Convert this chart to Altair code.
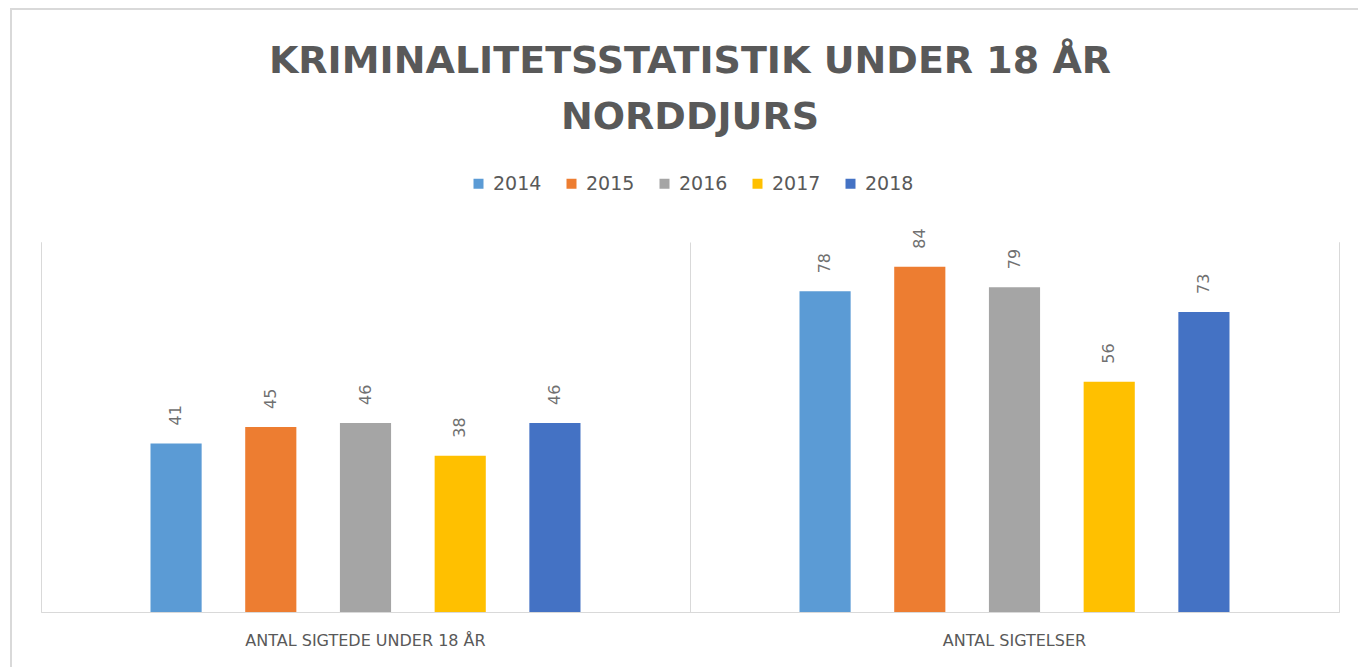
import altair as alt
import pandas as pd

categories = ["ANTAL SIGTEDE UNDER 18 ÅR", "ANTAL SIGTELSER"]
years = ["2014", "2015", "2016", "2017", "2018"]
sigtede = [41, 45, 46, 38, 46]
sigtelser = [78, 84, 79, 56, 73]
colors = ["#5B9BD5", "#ED7D31", "#A5A5A5", "#FFC000", "#4472C4"]

rows = []
for cat, vals in zip(categories, [sigtede, sigtelser]):
    for y, v in zip(years, vals):
        rows.append({"kategori": cat, "år": y, "antal": v})
df = pd.DataFrame(rows)

TXT = "#595959"
LINE = "#D9D9D9"
FONT = "DejaVu Sans"

base = alt.Chart(df).encode(
    x=alt.X("kategori:N", sort=categories,
            scale=alt.Scale(paddingInner=0, paddingOuter=0),
            axis=alt.Axis(title=None, labelAngle=0, labelFontSize=16, labelColor=TXT,
                          labelFont=FONT, labelPadding=20, labelLimit=800, ticks=False,
                          domain=True, domainColor=LINE, domainWidth=1, grid=True,
                          gridColor=LINE, bandPosition=0)),
    xOffset=alt.XOffset("år:N", sort=years,
                        scale=alt.Scale(range=[109.5, 539.5], paddingInner=0.46,
                                        paddingOuter=0)),
    y=alt.Y("antal:Q", scale=alt.Scale(domain=[0, 90], nice=False),
            axis=alt.Axis(title=None, labels=False, ticks=False, grid=False,
                          domain=True, domainColor=LINE)),
)

bars = base.mark_bar().encode(
    color=alt.Color("år:N", sort=years,
                    scale=alt.Scale(domain=years, range=colors),
                    legend=alt.Legend(title=None, orient="none", direction="horizontal",
                                      legendX=428, legendY=-68, symbolType="square",
                                      symbolSize=100, symbolStrokeWidth=0,
                                      labelFontSize=19, labelFont=FONT, labelColor=TXT,
                                      labelOffset=5, columnPadding=20)),
)

labels = base.mark_text(angle=270, align="left", baseline="middle", dx=18,
                        fontSize=16, font=FONT, color="#707070").encode(text="antal:Q")

right_axis = alt.Chart(df).mark_point(opacity=0).encode(
    y=alt.Y("antal:Q", scale=alt.Scale(domain=[0, 90], nice=False),
            axis=alt.Axis(orient="right", title=None, labels=False, ticks=False,
                          grid=False, domain=True, domainColor=LINE)),
)

frame = alt.Chart(alt.Data(values=[{}]))
border_left = frame.mark_rule(color=LINE, strokeWidth=2).encode(
    x=alt.value(-30), y=alt.value(-233), y2=alt.value(430))
border_top = frame.mark_rule(color=LINE, strokeWidth=2).encode(
    x=alt.value(-31), x2=alt.value(1330), y=alt.value(-233))

chart = alt.layer(bars, labels, right_axis, border_left, border_top).resolve_scale(
    y="independent"
).properties(
    width=1298,
    height=370,
    background="white",
    autosize=alt.AutoSizeParams(type="none"),
    padding={"left": 41, "top": 242, "right": 19, "bottom": 55},
    title=alt.TitleParams(
        text=["KRIMINALITETSSTATISTIK UNDER 18 ÅR", "NORDDJURS"],
        font=FONT, fontSize=38, fontWeight="bold", color=TXT,
        anchor="middle", lineHeight=56, offset=0, dy=129,
    ),
).configure_view(strokeWidth=0, stroke="transparent")

chart.save("out.html", embed_options={"renderer": "svg", "actions": False})
